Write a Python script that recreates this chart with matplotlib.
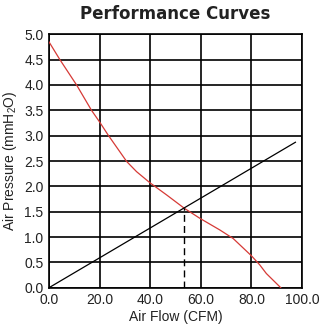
import matplotlib
matplotlib.use("Agg")
import matplotlib.pyplot as plt
import numpy as np

plt.rcParams['font.family'] = ['Liberation Sans', 'DejaVu Sans']
plt.rcParams['mathtext.fontset'] = 'custom'
plt.rcParams['mathtext.rm'] = 'Liberation Sans'
plt.rcParams['mathtext.it'] = 'Liberation Sans'
plt.rcParams['mathtext.bf'] = 'Liberation Sans:bold'

# Fan performance curve (Air Flow CFM vs Air Pressure mmH2O)
fan_flow = [0.0, 4.3, 10.9, 16.8, 20.0, 23.4, 30.7, 34.6, 39.9, 46.5, 53.4,
            59.6, 67.5, 72.8, 80.0, 83.3, 85.9, 91.6]
fan_pressure = [4.85, 4.5, 4.0, 3.5, 3.27, 3.01, 2.49, 2.29, 2.07, 1.83, 1.57,
                1.37, 1.14, 0.97, 0.63, 0.45, 0.28, 0.0]

# System impedance line
sys_flow = [0.0, 97.4]
sys_pressure = [0.0, 2.87]

# Operating point
op_flow = 53.4
op_pressure = 1.57

x_ticks = [0, 20, 40, 60, 80, 100]
y_ticks = [0.0, 0.5, 1.0, 1.5, 2.0, 2.5, 3.0, 3.5, 4.0, 4.5, 5.0]

fig = plt.figure(figsize=(3.35, 3.35), dpi=100)
ax = fig.add_axes([0.1463, 0.1412, 0.9015 - 0.1463, 0.8976 - 0.1412])

ax.plot(fan_flow, fan_pressure, color='#d63a36', lw=0.9, zorder=3)
ax.plot(sys_flow, sys_pressure, color='black', lw=0.9, zorder=3)
ax.plot([op_flow, op_flow], [0, op_pressure], color='black', lw=1.0,
        linestyle=(0, (5, 3)), zorder=3)

ax.set_xlim(0, 100)
ax.set_ylim(0, 5)
ax.set_xticks(x_ticks)
ax.set_xticklabels([f"{v:.1f}" for v in x_ticks])
ax.set_yticks(y_ticks)
ax.set_yticklabels([f"{v:.1f}" for v in y_ticks])
ax.grid(True, color='black', lw=1.2)
ax.set_axisbelow(True)
for s in ax.spines.values():
    s.set_color('black')
    s.set_linewidth(1.2)
ax.tick_params(length=0, labelsize=10, colors='#222222', pad=4)

ax.set_xlabel("Air Flow (CFM)", fontsize=10, color='#222222', labelpad=2)
ax.set_ylabel("Air Pressure (mmH$_2$O)", fontsize=10, color='#222222', labelpad=4)
fig.text(0.524, 0.958, "Performance Curves", ha='center', va='center',
         fontsize=12, fontweight='bold', color='#222222',
         family=['DejaVu Sans'])

fig.savefig("out.png", dpi=100)
